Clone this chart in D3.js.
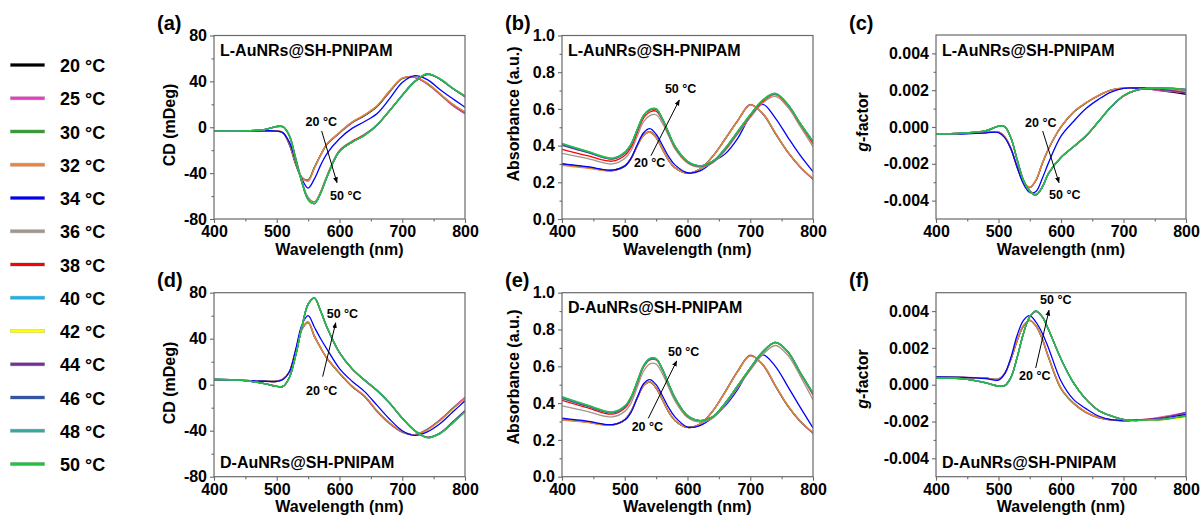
<!DOCTYPE html>
<html>
<head>
<meta charset="utf-8">
<script src="https://cdn.jsdelivr.net/npm/d3@7"></script>
<style>
  body { margin: 0; background: #fff; }
  svg { display: block; font-family: "Liberation Sans", Arial, sans-serif; font-weight: bold; }
</style>
</head>
<body>
<svg id="chart" width="1201" height="516"></svg>
<script>
// wavelength grid (nm) shared by every spectrum
const wavelength = [400, 440, 480, 500, 510, 520, 530, 540, 550, 560, 570, 580, 600, 620, 640, 660, 680, 700, 720, 740, 760, 780, 800];

const temperatures = ["20 °C", "25 °C", "30 °C", "32 °C", "34 °C", "36 °C", "38 °C", "40 °C", "42 °C", "44 °C", "46 °C", "48 °C", "50 °C"];
const seriesColors = ["#000000", "#e83cc4", "#3a9a3a", "#f08238", "#0000ff", "#a0968c", "#ff0000", "#22b0e6", "#ffff00", "#7030a0", "#3456a0", "#32aaa0", "#22c040"];

// (a) L-AuNRs CD, mDeg
const cdL = [
  [-3.6,-3.5,-3.2,-3.4,-5.0,-15,-32,-44,-46,-35,-24,-15,-5.0,4.0,10,18,31,42.5,43.5,38,29,19.5,12],
  [-3.5,-3.4,-3.1,-3.3,-4.8,-14.5,-31,-44,-46.5,-35.5,-24.5,-15,-5.0,4.0,10.5,18.5,31,42.5,43.5,37.5,28.5,19,12],
  [-3.5,-3.4,-3.0,-3.2,-4.6,-14,-31,-43.5,-46,-35,-24,-14.5,-4.5,4.5,10.5,18.5,31.5,42.5,44,38,29,20,13],
  [-3.4,-3.3,-3.0,-3.1,-4.5,-14,-30.5,-43.5,-47,-35.5,-24,-14.5,-4.5,4.5,11,19,32,43,44,38.5,29.5,20.5,13.5],
  [-3.5,-3.4,-3.1,-3.3,-4.8,-13,-29,-45,-53,-45,-33,-23,-10,-1.0,5.0,12,25,39,45,41.5,33,25,17.5],
  [-3.5,-3.3,-2.2,0.3,0.2,-6.5,-26,-46,-61,-65,-56,-42,-20,-12,-6.0,2.5,15,28,40,46,42,34,27],
  [-3.5,-3.3,-2.1,0.5,0.3,-7.0,-26.5,-47,-62,-65.5,-56.5,-42.5,-20.5,-12.5,-6.5,2.0,14.5,27.5,39.5,46,42,34,26.5],
  [-3.5,-3.3,-2.0,0.6,0.4,-7.0,-27,-47.5,-62.5,-66,-57,-43,-21,-13,-7.0,2.0,14.5,27.5,40,46.5,42,34,27],
  [-3.5,-3.3,-2.0,0.7,0.5,-7.0,-27,-47.5,-62.5,-66,-57,-43,-21,-13,-7.0,2.0,14.5,28,40,46.5,42.5,34.5,27.5],
  [-3.5,-3.3,-2.0,0.7,0.5,-7.5,-27.5,-48,-63,-66.5,-57.5,-43.5,-21,-13,-7.0,2.0,14.5,28,40,46.5,42,34,27],
  [-3.5,-3.3,-2.0,0.8,0.5,-7.5,-27.5,-48,-63,-66.5,-57.5,-43.5,-21,-13,-7.0,2.0,14.5,28,40,46.5,42,34,27],
  [-3.5,-3.3,-2.0,0.8,0.5,-7.5,-27.5,-48,-63,-66.5,-57.5,-43.5,-21,-13,-7.0,2.0,14.5,28,40,46.5,42.5,34.5,27.5],
  [-3.5,-3.3,-2.0,0.8,0.5,-7.5,-27.5,-48,-63,-66.5,-57.5,-43.5,-21,-13,-7.0,2.0,14.5,28,40,46.5,42,34,27]
];

// (b) L-AuNRs absorbance
const absL = [
  [0.300,0.283,0.265,0.290,0.330,0.402,0.458,0.476,0.445,0.382,0.320,0.280,0.250,0.272,0.340,0.435,0.535,0.622,0.575,0.468,0.365,0.283,0.218],
  [0.298,0.282,0.264,0.289,0.330,0.400,0.456,0.474,0.444,0.381,0.320,0.279,0.250,0.272,0.342,0.438,0.538,0.624,0.572,0.465,0.362,0.280,0.216],
  [0.296,0.280,0.263,0.288,0.328,0.399,0.455,0.473,0.443,0.380,0.319,0.279,0.250,0.271,0.341,0.436,0.536,0.622,0.574,0.467,0.364,0.282,0.218],
  [0.292,0.277,0.262,0.287,0.327,0.398,0.455,0.474,0.444,0.382,0.321,0.280,0.251,0.272,0.340,0.434,0.534,0.621,0.576,0.470,0.366,0.284,0.220],
  [0.300,0.285,0.266,0.288,0.330,0.405,0.470,0.492,0.462,0.402,0.340,0.295,0.252,0.262,0.310,0.355,0.440,0.560,0.625,0.550,0.445,0.345,0.258],
  [0.358,0.330,0.300,0.330,0.372,0.452,0.530,0.563,0.568,0.522,0.452,0.382,0.305,0.282,0.305,0.372,0.462,0.552,0.632,0.668,0.608,0.502,0.394],
  [0.380,0.345,0.315,0.346,0.390,0.472,0.550,0.583,0.588,0.538,0.462,0.390,0.310,0.287,0.310,0.378,0.470,0.560,0.640,0.678,0.618,0.514,0.410],
  [0.405,0.365,0.328,0.360,0.405,0.486,0.562,0.594,0.598,0.545,0.468,0.395,0.313,0.289,0.313,0.382,0.474,0.566,0.646,0.682,0.622,0.518,0.420],
  [0.404,0.364,0.328,0.360,0.404,0.485,0.561,0.593,0.597,0.544,0.467,0.394,0.313,0.289,0.313,0.382,0.474,0.565,0.645,0.681,0.621,0.517,0.419],
  [0.402,0.363,0.327,0.359,0.404,0.485,0.562,0.594,0.598,0.545,0.468,0.395,0.313,0.289,0.314,0.383,0.475,0.566,0.646,0.682,0.622,0.518,0.420],
  [0.405,0.366,0.329,0.361,0.406,0.487,0.563,0.595,0.599,0.546,0.469,0.396,0.314,0.290,0.314,0.384,0.476,0.567,0.647,0.683,0.623,0.519,0.421],
  [0.410,0.368,0.330,0.363,0.408,0.489,0.565,0.597,0.600,0.547,0.470,0.397,0.314,0.290,0.315,0.385,0.477,0.568,0.648,0.684,0.624,0.520,0.423],
  [0.412,0.370,0.332,0.365,0.410,0.490,0.566,0.598,0.602,0.548,0.471,0.398,0.315,0.290,0.315,0.386,0.478,0.569,0.650,0.685,0.625,0.521,0.425]
];

// (c) L-AuNRs g-factor
const gL = [
  [-0.00038,-0.00036,-0.00030,-0.00028,-0.00055,-0.00120,-0.00220,-0.00300,-0.00330,-0.00290,-0.00200,-0.00120,0.00000,0.00080,0.00130,0.00170,0.00200,0.00210,0.00210,0.00208,0.00198,0.00188,0.00178],
  [-0.00037,-0.00035,-0.00029,-0.00027,-0.00053,-0.00118,-0.00218,-0.00298,-0.00328,-0.00288,-0.00198,-0.00118,0.00002,0.00082,0.00132,0.00172,0.00200,0.00210,0.00210,0.00206,0.00196,0.00192,0.00185],
  [-0.00038,-0.00035,-0.00030,-0.00028,-0.00054,-0.00120,-0.00221,-0.00300,-0.00330,-0.00289,-0.00199,-0.00119,0.00001,0.00081,0.00131,0.00171,0.00201,0.00211,0.00211,0.00211,0.00205,0.00198,0.00190],
  [-0.00037,-0.00035,-0.00029,-0.00027,-0.00052,-0.00117,-0.00217,-0.00297,-0.00327,-0.00287,-0.00197,-0.00117,0.00002,0.00082,0.00132,0.00172,0.00201,0.00211,0.00211,0.00211,0.00206,0.00200,0.00192],
  [-0.00040,-0.00038,-0.00032,-0.00030,-0.00058,-0.00120,-0.00220,-0.00310,-0.00355,-0.00350,-0.00280,-0.00195,-0.00050,0.00030,0.00100,0.00150,0.00190,0.00210,0.00212,0.00212,0.00214,0.00210,0.00205],
  [-0.00038,-0.00034,-0.00021,0.00004,0.00001,-0.00060,-0.00178,-0.00288,-0.00345,-0.00365,-0.00325,-0.00250,-0.00163,-0.00105,-0.00046,0.00030,0.00110,0.00170,0.00200,0.00210,0.00210,0.00208,0.00198],
  [-0.00038,-0.00034,-0.00020,0.00005,0.00002,-0.00061,-0.00180,-0.00290,-0.00348,-0.00368,-0.00327,-0.00252,-0.00166,-0.00108,-0.00050,0.00028,0.00108,0.00168,0.00199,0.00209,0.00210,0.00209,0.00200],
  [-0.00039,-0.00035,-0.00021,0.00004,0.00001,-0.00060,-0.00179,-0.00289,-0.00349,-0.00369,-0.00327,-0.00251,-0.00165,-0.00107,-0.00048,0.00030,0.00110,0.00170,0.00200,0.00210,0.00211,0.00210,0.00201],
  [-0.00038,-0.00034,-0.00020,0.00005,0.00002,-0.00060,-0.00180,-0.00290,-0.00350,-0.00370,-0.00328,-0.00252,-0.00165,-0.00107,-0.00048,0.00030,0.00110,0.00170,0.00200,0.00210,0.00212,0.00211,0.00202],
  [-0.00039,-0.00035,-0.00021,0.00004,0.00001,-0.00061,-0.00181,-0.00291,-0.00350,-0.00370,-0.00328,-0.00253,-0.00166,-0.00108,-0.00049,0.00029,0.00109,0.00169,0.00199,0.00209,0.00205,0.00196,0.00185],
  [-0.00038,-0.00034,-0.00020,0.00005,0.00002,-0.00060,-0.00180,-0.00290,-0.00350,-0.00370,-0.00328,-0.00252,-0.00165,-0.00107,-0.00048,0.00030,0.00110,0.00170,0.00200,0.00210,0.00212,0.00210,0.00203],
  [-0.00038,-0.00034,-0.00020,0.00005,0.00002,-0.00060,-0.00180,-0.00290,-0.00350,-0.00370,-0.00328,-0.00253,-0.00166,-0.00108,-0.00049,0.00029,0.00109,0.00170,0.00200,0.00210,0.00211,0.00209,0.00201],
  [-0.00038,-0.00034,-0.00020,0.00005,0.00002,-0.00060,-0.00180,-0.00290,-0.00350,-0.00370,-0.00328,-0.00252,-0.00165,-0.00107,-0.00048,0.00030,0.00110,0.00170,0.00200,0.00210,0.00210,0.00210,0.00200]
];

// (d) D-AuNRs CD, mDeg
const cdD = [
  [4.6,4.0,3.0,3.0,5.0,11,29,48,54,42,32,23,10,-1.5,-10,-23,-33.5,-41,-43.5,-39,-31,-21,-11.5],
  [4.5,4.0,3.0,3.1,5.0,11,29,48,54.5,42.5,32,23,10,-1.5,-10.5,-23.5,-34,-41.5,-43.5,-38.5,-30.5,-20.5,-11],
  [4.5,4.0,3.0,3.0,5.0,11,29.5,48.5,54.5,42,32,23,10,-1.5,-10,-23,-33.5,-41,-43.5,-39,-31,-21,-12],
  [4.4,3.9,2.9,3.0,5.0,11.5,30,48.5,54,42,32,23,10.5,-1.0,-9.5,-22.5,-33,-40.5,-43.5,-39.5,-31.5,-21.5,-12],
  [4.5,4.0,3.0,2.8,4.5,11,30,52,60,50,40,31,14,3.0,-6.0,-18,-30,-40,-44,-41,-34,-24,-14],
  [4.4,3.9,1.1,-1.3,-1.3,6.5,25.5,49.5,69.5,75,63.5,49.5,27.5,13.5,3.5,-5.5,-16.5,-29.5,-40,-45.5,-42,-33,-23],
  [4.5,4.0,1.0,-1.4,-1.4,6.2,25.2,49.8,69.8,75.2,63.8,49.8,27.8,13.8,3.8,-5.2,-16.2,-29.2,-40,-45.8,-42.2,-33.2,-23.2],
  [4.5,4.0,1.0,-1.5,-1.5,6.0,25,50,70,75.5,64,50,28,14,4.0,-5.0,-16,-29,-40,-46,-42.5,-33.5,-23.5],
  [4.6,4.1,1.0,-1.5,-1.5,6.0,25,50,70,75.5,64,50,28,14,4.0,-5.0,-16,-29,-40,-46,-42.5,-33.5,-24],
  [4.5,4.0,1.0,-1.5,-1.5,6.1,25.1,50.1,70,75.4,64,50,28,14,4.0,-5.0,-16,-29,-40,-45.8,-42,-32.5,-22.5],
  [4.5,4.0,1.0,-1.5,-1.5,6.0,25,50,70,75.5,64,50,28,14,4.0,-5.0,-16,-29,-40,-46,-42.5,-33.5,-23.5],
  [4.5,4.0,1.0,-1.5,-1.5,6.0,25,50,70,75.5,64,50,28,14,4.0,-5.0,-16,-29,-40,-46,-42.5,-33.5,-23.5],
  [4.5,4.0,1.0,-1.5,-1.5,6.0,25,50,70,75.5,64.2,50.2,28.2,14.2,4.2,-4.8,-15.8,-28.8,-39.8,-46,-42.5,-33.5,-23.5]
];

// (e) D-AuNRs absorbance
const absD = [
  [0.312,0.298,0.282,0.310,0.355,0.430,0.495,0.515,0.482,0.418,0.352,0.306,0.268,0.286,0.355,0.460,0.572,0.658,0.610,0.495,0.385,0.300,0.238],
  [0.310,0.297,0.281,0.309,0.354,0.428,0.494,0.514,0.481,0.417,0.352,0.306,0.268,0.287,0.357,0.463,0.575,0.660,0.607,0.492,0.382,0.298,0.236],
  [0.311,0.297,0.281,0.309,0.354,0.429,0.494,0.514,0.482,0.418,0.352,0.306,0.268,0.286,0.356,0.461,0.573,0.659,0.609,0.494,0.384,0.300,0.238],
  [0.308,0.295,0.280,0.308,0.353,0.428,0.494,0.515,0.483,0.419,0.353,0.307,0.269,0.286,0.355,0.459,0.571,0.657,0.611,0.497,0.387,0.302,0.240],
  [0.318,0.302,0.283,0.308,0.350,0.430,0.505,0.528,0.500,0.440,0.375,0.325,0.270,0.278,0.320,0.385,0.475,0.590,0.662,0.600,0.490,0.375,0.265],
  [0.385,0.355,0.325,0.355,0.400,0.488,0.573,0.613,0.612,0.560,0.485,0.412,0.322,0.297,0.318,0.390,0.483,0.578,0.664,0.713,0.660,0.545,0.418],
  [0.415,0.375,0.340,0.372,0.422,0.508,0.595,0.635,0.635,0.580,0.500,0.425,0.328,0.302,0.322,0.396,0.490,0.586,0.676,0.727,0.676,0.560,0.445],
  [0.425,0.382,0.346,0.378,0.428,0.514,0.600,0.640,0.639,0.583,0.503,0.428,0.330,0.304,0.324,0.398,0.493,0.588,0.678,0.729,0.678,0.563,0.450],
  [0.428,0.384,0.347,0.380,0.430,0.516,0.601,0.641,0.640,0.584,0.504,0.429,0.331,0.304,0.324,0.399,0.494,0.589,0.679,0.729,0.679,0.564,0.452],
  [0.426,0.383,0.347,0.379,0.429,0.515,0.601,0.641,0.640,0.584,0.504,0.429,0.331,0.305,0.325,0.399,0.494,0.589,0.679,0.730,0.679,0.564,0.451],
  [0.430,0.386,0.349,0.382,0.432,0.517,0.603,0.642,0.641,0.585,0.505,0.430,0.332,0.305,0.325,0.400,0.495,0.590,0.680,0.730,0.680,0.565,0.453],
  [0.432,0.388,0.350,0.383,0.433,0.518,0.604,0.642,0.641,0.585,0.505,0.430,0.332,0.305,0.325,0.400,0.495,0.590,0.680,0.730,0.680,0.565,0.454],
  [0.435,0.390,0.352,0.385,0.435,0.520,0.605,0.643,0.642,0.585,0.505,0.430,0.332,0.305,0.325,0.400,0.495,0.590,0.680,0.731,0.680,0.565,0.455]
];

// (f) D-AuNRs g-factor
const gD = [
  [0.00042,0.00040,0.00035,0.00030,0.00060,0.00140,0.00240,0.00320,0.00350,0.00320,0.00250,0.00150,-0.00020,-0.00100,-0.00150,-0.00178,-0.00190,-0.00195,-0.00192,-0.00188,-0.00180,-0.00170,-0.00160],
  [0.00043,0.00041,0.00036,0.00031,0.00061,0.00141,0.00241,0.00321,0.00349,0.00318,0.00248,0.00148,-0.00022,-0.00102,-0.00152,-0.00180,-0.00192,-0.00196,-0.00192,-0.00186,-0.00176,-0.00164,-0.00152],
  [0.00042,0.00040,0.00035,0.00030,0.00060,0.00140,0.00240,0.00320,0.00350,0.00319,0.00249,0.00149,-0.00021,-0.00101,-0.00151,-0.00179,-0.00191,-0.00195,-0.00192,-0.00188,-0.00180,-0.00170,-0.00160],
  [0.00041,0.00039,0.00034,0.00030,0.00062,0.00143,0.00243,0.00322,0.00351,0.00321,0.00251,0.00152,-0.00018,-0.00098,-0.00149,-0.00178,-0.00190,-0.00195,-0.00192,-0.00187,-0.00179,-0.00168,-0.00158],
  [0.00042,0.00040,0.00033,0.00025,0.00060,0.00150,0.00270,0.00350,0.00375,0.00340,0.00280,0.00200,0.00020,-0.00080,-0.00130,-0.00170,-0.00190,-0.00195,-0.00193,-0.00190,-0.00182,-0.00172,-0.00162],
  [0.00035,0.00033,0.00011,-0.00007,-0.00004,0.00042,0.00152,0.00280,0.00368,0.00396,0.00368,0.00298,0.00140,0.00012,-0.00078,-0.00138,-0.00168,-0.00188,-0.00194,-0.00190,-0.00188,-0.00180,-0.00170],
  [0.00035,0.00033,0.00010,-0.00008,-0.00005,0.00041,0.00151,0.00280,0.00369,0.00398,0.00369,0.00299,0.00140,0.00011,-0.00079,-0.00139,-0.00169,-0.00189,-0.00195,-0.00190,-0.00189,-0.00181,-0.00171],
  [0.00036,0.00034,0.00011,-0.00007,-0.00004,0.00040,0.00150,0.00280,0.00370,0.00399,0.00370,0.00300,0.00140,0.00010,-0.00080,-0.00140,-0.00170,-0.00190,-0.00195,-0.00191,-0.00190,-0.00182,-0.00174],
  [0.00035,0.00033,0.00010,-0.00008,-0.00005,0.00040,0.00150,0.00280,0.00370,0.00400,0.00370,0.00300,0.00140,0.00010,-0.00080,-0.00140,-0.00170,-0.00190,-0.00195,-0.00192,-0.00192,-0.00185,-0.00178],
  [0.00035,0.00033,0.00010,-0.00008,-0.00005,0.00040,0.00150,0.00280,0.00370,0.00400,0.00370,0.00300,0.00140,0.00010,-0.00080,-0.00140,-0.00170,-0.00190,-0.00194,-0.00188,-0.00182,-0.00168,-0.00150],
  [0.00035,0.00033,0.00010,-0.00008,-0.00005,0.00040,0.00150,0.00280,0.00370,0.00400,0.00370,0.00300,0.00140,0.00010,-0.00080,-0.00140,-0.00170,-0.00190,-0.00195,-0.00190,-0.00190,-0.00180,-0.00170],
  [0.00035,0.00033,0.00010,-0.00008,-0.00005,0.00040,0.00150,0.00280,0.00370,0.00400,0.00370,0.00300,0.00140,0.00010,-0.00080,-0.00140,-0.00170,-0.00190,-0.00195,-0.00190,-0.00189,-0.00180,-0.00171],
  [0.00035,0.00033,0.00010,-0.00008,-0.00005,0.00040,0.00150,0.00280,0.00370,0.00400,0.00370,0.00300,0.00140,0.00010,-0.00080,-0.00140,-0.00170,-0.00190,-0.00195,-0.00190,-0.00190,-0.00180,-0.00170]
];

// axis ticks
const wlTicks = [400, 500, 600, 700, 800];
const wlMinor = [450, 550, 650, 750];
const cdTicks = [-80, -40, 0, 40, 80];
const cdMinor = [-60, -20, 20, 60];
const absTicks = [0, 0.2, 0.4, 0.6, 0.8, 1.0];
const absMinor = [0.1, 0.3, 0.5, 0.7, 0.9];
const gTicks = [-0.004, -0.002, 0, 0.002, 0.004];
const gMinor = [-0.003, -0.001, 0.001, 0.003];

// "20 °C" / "50 °C" arrow notes, in data units: [low label, high label, arrow start, arrow end]
const notesA = [[546, 1.1], [585, -63.4], [571.6, -3.3], [596, -48.3]];
const notesB = [[514.7, 0.285], [564, 0.687], [541.8, 0.345], [587, 0.648]];
const notesC = [[542.4, 0.00002], [580.8, -0.00393], [570.7, -0.00022], [596.8, -0.00303]];
const notesD = [[546.6, -9], [579.6, 57.7], [573.2, 7], [594, 53.9]];
const notesE = [[511, 0.25], [568.9, 0.656], [537.5, 0.317], [582.8, 0.629]];
const notesF = [[532.8, 0.00023], [566.4, 0.00436], [559.5, 0.00091], [580.8, 0.00405]];

const svg = d3.select("#chart");
svg.append("rect").attr("width", 1201).attr("height", 516).attr("fill", "#fff");

svg.append("defs").append("marker")
  .attr("id", "arrow")
  .attr("viewBox", "0 0 10 10")
  .attr("refX", 9).attr("refY", 5)
  .attr("markerWidth", 6).attr("markerHeight", 6)
  .attr("orient", "auto")
  .append("path")
  .attr("d", "M0,1 L10,5 L0,9 Z")
  .attr("fill", "#000");

const fmtInt = (d) => String(d);
const fmtAbs = (d) => d.toFixed(1);
const fmtG = (d) => (d === 0 ? "0.000" : d.toFixed(3));

const panels = [
  { tag: "(a)", data: cdL, left: 214, top: 35.5, width: 251, height: 183.5, yDomain: [-80, 80], yTicks: cdTicks, yMinor: cdMinor, fmt: fmtInt,
    yTitle: "CD (mDeg)", yTitleX: 175, yTitleY: 125, sample: "L-AuNRs@SH-PNIPAM", sampleTop: true, tagX: 157, notes: notesA },
  { tag: "(b)", data: absL, left: 562, top: 35.5, width: 251, height: 183.5, yDomain: [0, 1], yTicks: absTicks, yMinor: absMinor, fmt: fmtAbs,
    yTitle: "Absorbance (a.u.)", yTitleX: 519, yTitleY: 114, sample: "L-AuNRs@SH-PNIPAM", sampleTop: true, tagX: 505, notes: notesB },
  { tag: "(c)", data: gL, left: 936, top: 35, width: 250, height: 184, yDomain: [-0.005, 0.005], yTicks: gTicks, yMinor: gMinor, fmt: fmtG,
    yTitle: "g", yTitleX: 868, yTitleY: 122, sample: "L-AuNRs@SH-PNIPAM", sampleTop: true, tagX: 849, notes: notesC },
  { tag: "(d)", data: cdD, left: 214, top: 292.7, width: 251, height: 184, yDomain: [-80, 80], yTicks: cdTicks, yMinor: cdMinor, fmt: fmtInt,
    yTitle: "CD (mDeg)", yTitleX: 175, yTitleY: 383, sample: "D-AuNRs@SH-PNIPAM", sampleTop: false, tagX: 157, notes: notesD },
  { tag: "(e)", data: absD, left: 562, top: 292.7, width: 251, height: 184, yDomain: [0, 1], yTicks: absTicks, yMinor: absMinor, fmt: fmtAbs,
    yTitle: "Absorbance (a.u.)", yTitleX: 519, yTitleY: 377, sample: "D-AuNRs@SH-PNIPAM", sampleTop: true, tagX: 505, notes: notesE },
  { tag: "(f)", data: gD, left: 936, top: 292.7, width: 250, height: 184, yDomain: [-0.005, 0.005], yTicks: gTicks, yMinor: gMinor, fmt: fmtG,
    yTitle: "g", yTitleX: 868, yTitleY: 379, sample: "D-AuNRs@SH-PNIPAM", sampleTop: false, tagX: 849, notes: notesF }
];

const axisColor = "#6a6a6a";

panels.forEach((p, pi) => {
  const bottom = p.top + p.height;
  const x = d3.scaleLinear().domain([400, 800]).range([p.left, p.left + p.width]);
  const y = d3.scaleLinear().domain(p.yDomain).range([bottom, p.top]);
  const g = svg.append("g");

  g.append("clipPath").attr("id", `clip${pi}`)
    .append("rect")
    .attr("x", p.left).attr("y", p.top)
    .attr("width", p.width).attr("height", p.height);

  // spectra, 20 °C first so 50 °C sits on top
  const line = d3.line()
    .x((d, i) => x(wavelength[i]))
    .y((d) => y(d))
    .curve(d3.curveCatmullRom.alpha(0.5));

  const curves = g.append("g").attr("clip-path", `url(#clip${pi})`);
  p.data.forEach((row, si) => {
    curves.append("path")
      .attr("d", line(row))
      .attr("fill", "none")
      .attr("stroke", seriesColors[si])
      .attr("stroke-width", 1.3);
  });

  // frame
  g.append("rect")
    .attr("x", p.left).attr("y", p.top)
    .attr("width", p.width).attr("height", p.height)
    .attr("fill", "none")
    .attr("stroke", axisColor)
    .attr("stroke-width", 1.2);

  // axes
  const styleAxis = (sel) => {
    sel.select(".domain").remove();
    sel.selectAll("line").attr("stroke", axisColor).attr("stroke-width", 1.1);
    sel.selectAll("text").attr("fill", "#000").style("font-size", "16px").style("font-weight", "bold")
      .style("font-family", '"Liberation Sans", Arial, sans-serif');
  };

  g.append("g").attr("transform", `translate(0,${bottom})`)
    .call(d3.axisBottom(x).tickValues(wlTicks).tickFormat(fmtInt).tickSize(4).tickPadding(3))
    .call(styleAxis);
  g.append("g").attr("transform", `translate(0,${bottom})`)
    .call(d3.axisBottom(x).tickValues(wlMinor).tickFormat("").tickSize(2.5))
    .call(styleAxis);
  g.append("g").attr("transform", `translate(${p.left},0)`)
    .call(d3.axisLeft(y).tickValues(p.yTicks).tickFormat(p.fmt).tickSize(4).tickPadding(3))
    .call(styleAxis);
  g.append("g").attr("transform", `translate(${p.left},0)`)
    .call(d3.axisLeft(y).tickValues(p.yMinor).tickFormat("").tickSize(2.5))
    .call(styleAxis);

  // axis titles
  g.append("text")
    .attr("x", p.left + p.width / 2)
    .attr("y", bottom + 35.5)
    .attr("text-anchor", "middle")
    .style("font-size", "16px")
    .text("Wavelength (nm)");

  const yt = g.append("text")
    .attr("transform", `translate(${p.yTitleX},${p.yTitleY}) rotate(-90)`)
    .attr("text-anchor", "middle")
    .style("font-size", "16px");
  if (p.yTitle === "g") {
    yt.append("tspan").style("font-style", "italic").text("g");
    yt.append("tspan").text("-factor");
  } else {
    yt.text(p.yTitle);
  }

  // panel tag
  g.append("text")
    .attr("x", p.tagX)
    .attr("y", p.top - 5.5)
    .style("font-size", "20px")
    .text(p.tag);

  // sample name
  g.append("text")
    .attr("x", p.left + 6)
    .attr("y", p.sampleTop ? p.top + 20.5 : bottom - 8.5)
    .style("font-size", "16px")
    .text(p.sample);

  // temperature arrow
  const [lowAt, highAt, from, to] = p.notes;
  g.append("line")
    .attr("x1", x(from[0])).attr("y1", y(from[1]))
    .attr("x2", x(to[0])).attr("y2", y(to[1]))
    .attr("stroke", "#000")
    .attr("stroke-width", 1)
    .attr("marker-end", "url(#arrow)");
  g.append("text").attr("x", x(lowAt[0])).attr("y", y(lowAt[1]))
    .style("font-size", "12.5px").text("20 °C");
  g.append("text").attr("x", x(highAt[0])).attr("y", y(highAt[1]))
    .style("font-size", "12.5px").text("50 °C");
});

// legend
const legendY = d3.scaleLinear().domain([0, temperatures.length - 1]).range([65, 464]);
const legend = svg.append("g");
temperatures.forEach((t, i) => {
  const yy = legendY(i);
  legend.append("line")
    .attr("x1", 10).attr("x2", 45).attr("y1", yy).attr("y2", yy)
    .attr("stroke", "#c8c8c8").attr("stroke-width", 4);
  legend.append("line")
    .attr("x1", 10.5).attr("x2", 44.5).attr("y1", yy).attr("y2", yy)
    .attr("stroke", seriesColors[i]).attr("stroke-width", 2.8);
  legend.append("text")
    .attr("x", 60).attr("y", yy + 7)
    .style("font-size", "18px")
    .text(t);
});
</script>
</body>
</html>
